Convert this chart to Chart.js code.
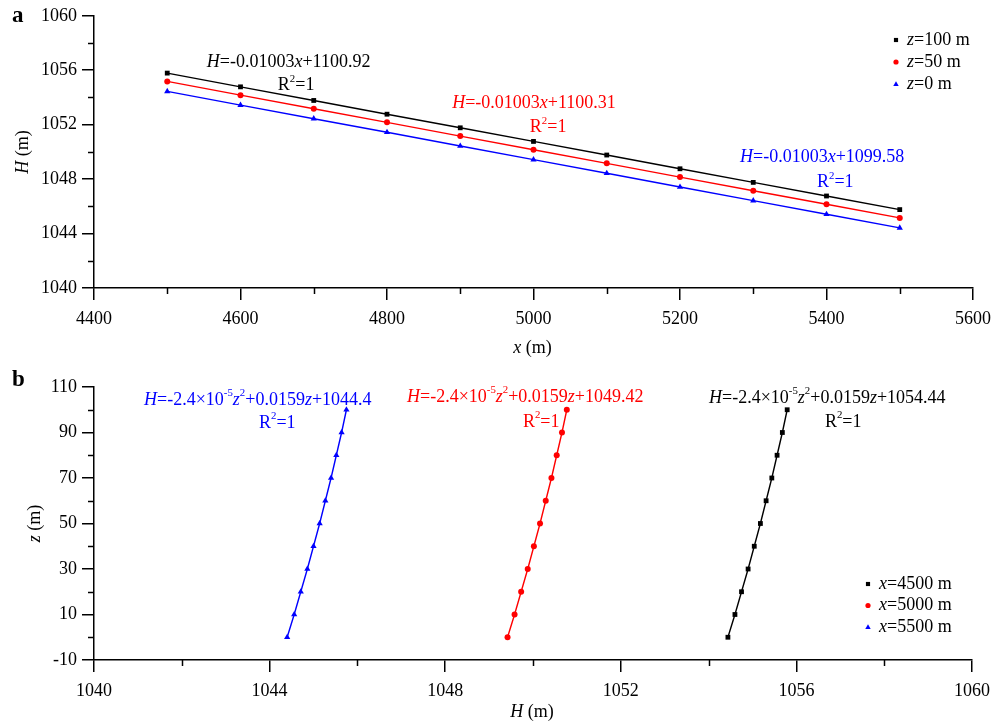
<!DOCTYPE html>
<html><head><meta charset="utf-8">
<script src="https://cdn.jsdelivr.net/npm/chart.js@4/dist/chart.umd.min.js"></script>
<style>
html,body{margin:0;padding:0;background:#fff;overflow:hidden;}
.w{position:absolute;left:0;width:1003px;height:363px;}
#wa{top:0} #wb{top:363px}
</style></head><body>
<div class="w" id="wa"><canvas id="ca"></canvas></div>
<div class="w" id="wb"><canvas id="cb"></canvas></div>
<script>
// ---------- Panel a data ----------
const xPositions = [4500,4600,4700,4800,4900,5000,5100,5200,5300,5400,5500];
const H_z100 = [1055.79,1054.78,1053.78,1052.77,1051.77,1050.77,1049.77,1048.76,1047.76,1046.76,1045.76];
const H_z50  = [1055.18,1054.17,1053.17,1052.17,1051.16,1050.16,1049.16,1048.15,1047.15,1046.15,1045.15];
const H_z0   = [1054.45,1053.44,1052.44,1051.44,1050.43,1049.43,1048.43,1047.42,1046.42,1045.42,1044.42];
const xTicksA = [4400,4600,4800,5000,5200,5400,5600];
const hTicksA = [1040,1044,1048,1052,1056,1060];
const legendA = ['z=100 m','z=50 m','z=0 m'];

// ---------- Panel b data ----------
const zLevels = [0,10,20,30,40,50,60,70,80,90,100];
const H_x4500 = [1054.44,1054.60,1054.75,1054.90,1055.04,1055.18,1055.31,1055.44,1055.56,1055.68,1055.79];
const H_x5000 = [1049.42,1049.58,1049.73,1049.88,1050.02,1050.16,1050.29,1050.42,1050.54,1050.66,1050.77];
const H_x5500 = [1044.40,1044.56,1044.71,1044.86,1045.00,1045.14,1045.27,1045.40,1045.52,1045.64,1045.75];
const hTicksB = [1040,1044,1048,1052,1056,1060];
const zTicksB = [-10,10,30,50,70,90,110];
const legendB = ['x=4500 m','x=5000 m','x=5500 m'];

const FONT = '"Liberation Serif","Times New Roman",serif';
const FS = 18;

function segW(ctx, segs, size){
  let w=0;
  for(const s of segs){
    const fs = s.sup ? size*0.6 : size;
    ctx.font = (s.i?'italic ':'') + fs + 'px ' + FONT;
    w += ctx.measureText(s.t).width;
  }
  return w;
}
function drawRich(ctx, segs, x, y, color, size, align){
  ctx.save();
  ctx.fillStyle = color; ctx.textBaseline = 'middle'; ctx.textAlign = 'left';
  let cx = x;
  if(align==='center') cx = x - segW(ctx, segs, size)/2;
  for(const s of segs){
    const fs = s.sup ? size*0.6 : size;
    ctx.font = (s.i?'italic ':'') + fs + 'px ' + FONT;
    ctx.fillText(s.t, cx, y + (s.sup ? -size*0.36 : 0));
    cx += ctx.measureText(s.t).width;
  }
  ctx.restore();
}
function parseVar(label){ // "z=100 m" -> italic variable
  const k = label.indexOf('=');
  return [{t:label.slice(0,k),i:true},{t:label.slice(k)}];
}
function drawMarker(ctx, style, color, x, y, r){
  ctx.save(); ctx.fillStyle=color; ctx.beginPath();
  if(style==='rect'){ ctx.rect(x-r*0.8,y-r*0.8,r*1.6,r*1.6); }
  else if(style==='circle'){ ctx.arc(x,y,r,0,Math.PI*2); }
  else { ctx.moveTo(x,y-r*1.1); ctx.lineTo(x+r*1.05,y+r*0.75); ctx.lineTo(x-r*1.05,y+r*0.75); ctx.closePath(); }
  ctx.fill(); ctx.restore();
}

const decorPlugin = {
  id:'decor',
  afterDraw(chart, args, o){
    const ctx = chart.ctx, ca = chart.chartArea;
    const sx = chart.scales.x, sy = chart.scales.y;
    // minor ticks
    ctx.save(); ctx.strokeStyle='#000'; ctx.lineWidth=1.5;
    const tx = sx.ticks.map(t=>t.value), ty = sy.ticks.map(t=>t.value);
    for(let i=0;i<tx.length-1;i++){
      const p = Math.round(sx.getPixelForValue((tx[i]+tx[i+1])/2))+0.5;
      ctx.beginPath(); ctx.moveTo(p, ca.bottom); ctx.lineTo(p, ca.bottom+6); ctx.stroke();
    }
    for(let i=0;i<ty.length-1;i++){
      const p = Math.round(sy.getPixelForValue((ty[i]+ty[i+1])/2))+0.5;
      ctx.beginPath(); ctx.moveTo(ca.left, p); ctx.lineTo(ca.left-6, p); ctx.stroke();
    }
    ctx.restore();
    // annotations
    for(const a of o.notes){
      drawRich(ctx, a.segs, sx.getPixelForValue(a.x), sy.getPixelForValue(a.y), a.color, FS, 'left');
    }
    // legend
    o.legend.forEach((it,k)=>{
      const y = o.legendY + k*o.legendGap;
      drawMarker(ctx, it.style, it.color, o.legendX, y, 2.6);
      drawRich(ctx, parseVar(it.label), o.legendX+11, y, '#000', FS, 'left');
    });
    // axis titles
    drawRich(ctx, o.xTitle, (ca.left+ca.right)/2 - 1, o.xTitleY, '#000', FS, 'center');
    ctx.save();
    ctx.translate(o.yTitleX, (ca.top+ca.bottom)/2 + o.yTitleDy);
    ctx.rotate(-Math.PI/2);
    drawRich(ctx, o.yTitle, 0, 0, '#000', FS, 'center');
    ctx.restore();
    // panel letter
    ctx.save(); ctx.fillStyle='#000'; ctx.font='bold 23px '+FONT; ctx.textBaseline='middle';
    ctx.fillText(o.letter, 12, o.letterY); ctx.restore();
  }
};

function axis(min,max,ticks,pos,fit){
  return {
    type:'linear', position:pos, min:min, max:max,
    afterBuildTicks: s=>{ s.ticks = ticks.map(v=>({value:v})); },
    afterFit: fit,
    border:{display:true,color:'#000',width:1.5},
    grid:{drawOnChartArea:false,drawTicks:true,tickLength:12,color:'#000',lineWidth:1.5},
    ticks:{color:'#000',font:{family:FONT,size:FS},padding:pos==='left'?5:8,maxRotation:0,autoSkip:false,
      callback:v=>String(v)}
  };
}
function ds(label, xs, ys, color, style, r){
  return {label, data: xs.map((x,i)=>({x:x,y:ys[i]})), showLine:true, borderColor:color, backgroundColor:color,
    borderWidth:1.4, pointStyle:style, pointRadius:r, pointBorderWidth:0, pointHoverRadius:r, clip:false};
}
const eqA = (c)=>[{t:'H',i:true},{t:'=-0.01003'},{t:'x',i:true},{t:'+'+c}];
const eqB = (c)=>[{t:'H',i:true},{t:'=-2.4×10'},{t:'-5',sup:true},{t:'z',i:true},{t:'2',sup:true},{t:'+0.0159'},{t:'z',i:true},{t:'+'+c}];
const R2 = [{t:'R'},{t:'2',sup:true},{t:'=1'}];

Chart.defaults.animation = false;
Chart.defaults.font.family = FONT;

new Chart(document.getElementById('ca'), {
  type:'scatter',
  data:{datasets:[
    ds(legendA[0], xPositions, H_z100, '#000000', 'rect', 3.4),
    ds(legendA[1], xPositions, H_z50, '#ff0000', 'circle', 3),
    ds(legendA[2], xPositions, H_z0, '#0000ff', 'triangle', 3.6)
  ]},
  options:{
    responsive:true, maintainAspectRatio:false, animation:false, events:[],
    layout:{padding:{left:0,top:15,right:30,bottom:0}},
    plugins:{legend:{display:false},tooltip:{enabled:false},
      decor:{
        notes:[
          {segs:eqA('1100.92'),x:4554,y:1056.56,color:'#000'},
          {segs:R2,x:4651,y:1054.87,color:'#000'},
          {segs:eqA('1100.31'),x:4889,y:1053.55,color:'#ff0000'},
          {segs:R2,x:4995,y:1051.8,color:'#ff0000'},
          {segs:eqA('1099.58'),x:5282,y:1049.6,color:'#0000ff'},
          {segs:R2,x:5387,y:1047.77,color:'#0000ff'}
        ],
        legend:[{style:'rect',color:'#000',label:legendA[0]},{style:'circle',color:'#ff0000',label:legendA[1]},{style:'triangle',color:'#0000ff',label:legendA[2]}],
        legendX:896, legendY:40, legendGap:22,
        xTitle:[{t:'x',i:true},{t:' (m)'}], xTitleY:348,
        yTitle:[{t:'H',i:true},{t:' (m)'}], yTitleX:23, yTitleDy:0,
        letter:'a', letterY:16
      }},
    scales:{
      x: axis(4400,5600,xTicksA,'bottom',s=>{s.height=75;}),
      y: axis(1040,1060,hTicksA,'left',s=>{s.width=94;})
    }
  },
  plugins:[decorPlugin]
});

new Chart(document.getElementById('cb'), {
  type:'scatter',
  data:{datasets:[
    ds(legendB[0], H_x4500, zLevels, '#000000', 'rect', 3.4),
    ds(legendB[1], H_x5000, zLevels, '#ff0000', 'circle', 3),
    ds(legendB[2], H_x5500, zLevels, '#0000ff', 'triangle', 3.6)
  ]},
  options:{
    responsive:true, maintainAspectRatio:false, animation:false, events:[],
    layout:{padding:{left:0,top:24,right:31,bottom:0}},
    plugins:{legend:{display:false},tooltip:{enabled:false},
      decor:{
        notes:[
          {segs:eqB('1044.4'),x:1041.14,y:104.3,color:'#0000ff'},
          {segs:R2,x:1043.76,y:94.2,color:'#0000ff'},
          {segs:eqB('1049.42'),x:1047.13,y:105.6,color:'#ff0000'},
          {segs:R2,x:1049.77,y:94.6,color:'#ff0000'},
          {segs:eqB('1054.44'),x:1054.01,y:105.2,color:'#000'},
          {segs:R2,x:1056.65,y:94.6,color:'#000'}
        ],
        legend:[{style:'rect',color:'#000',label:legendB[0]},{style:'circle',color:'#ff0000',label:legendB[1]},{style:'triangle',color:'#0000ff',label:legendB[2]}],
        legendX:868, legendY:221, legendGap:21.5,
        xTitle:[{t:'H',i:true},{t:' (m)'}], xTitleY:349,
        yTitle:[{t:'z',i:true},{t:' (m)'}], yTitleX:35, yTitleDy:0,
        letter:'b', letterY:17
      }},
    scales:{
      x: axis(1040,1060,hTicksB,'bottom',s=>{s.height=66;}),
      y: axis(-10,110,zTicksB,'left',s=>{s.width=94;})
    }
  },
  plugins:[decorPlugin]
});
</script>
</body></html>
